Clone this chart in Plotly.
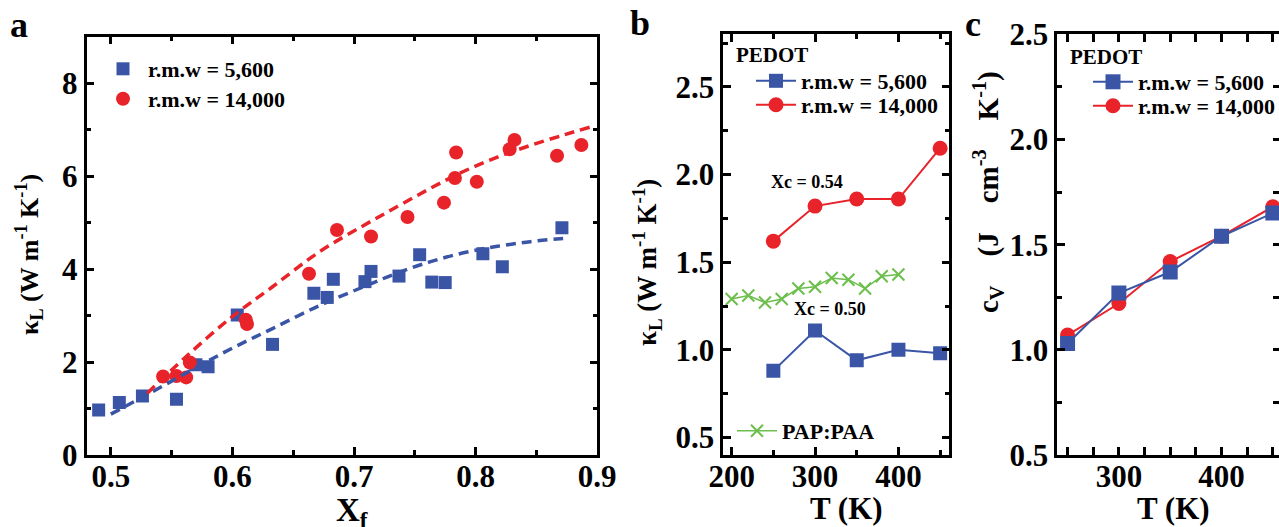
import plotly.graph_objects as go

W, H = 1279, 527
FONT = "Liberation Serif"
BLUE = "#3a55a6"
RED = "#e8232a"
GREEN = "#6cbf4c"

# ---- panel a: kappa_L vs crystalline fraction ----
xf_5600 = [0.490, 0.507, 0.526, 0.554, 0.570, 0.580, 0.604, 0.633, 0.667, 0.678,
           0.683, 0.709, 0.714, 0.737, 0.754, 0.764, 0.775, 0.806, 0.822, 0.871]
kl_5600 = [0.97, 1.13, 1.27, 1.20, 1.94, 1.90, 3.01, 2.38, 3.48, 3.39,
           3.78, 3.73, 3.95, 3.85, 4.31, 3.72, 3.71, 4.33, 4.05, 4.89]
xf_14000 = [0.543, 0.554, 0.562, 0.565, 0.611, 0.612, 0.663, 0.686, 0.714,
            0.744, 0.774, 0.783, 0.784, 0.801, 0.828, 0.832, 0.867, 0.887]
kl_14000 = [1.69, 1.70, 1.67, 1.99, 2.91, 2.82, 3.90, 4.84, 4.70,
            5.12, 5.43, 5.96, 6.51, 5.88, 6.58, 6.78, 6.44, 6.67]
fit_x_5600 = [0.500, 0.530, 0.570, 0.600, 0.633, 0.672, 0.708, 0.736, 0.763, 0.790, 0.818, 0.845, 0.872]
fit_y_5600 = [0.88, 1.30, 1.88, 2.30, 2.72, 3.22, 3.62, 3.92, 4.16, 4.35, 4.49, 4.59, 4.66]
fit_x_14000 = [0.530, 0.562, 0.600, 0.633, 0.672, 0.708, 0.736, 0.763, 0.790, 0.818, 0.845, 0.873, 0.895]
fit_y_14000 = [1.33, 2.12, 2.98, 3.62, 4.38, 4.94, 5.35, 5.74, 6.10, 6.41, 6.66, 6.89, 7.06]

# ---- panel b: kappa_L vs temperature ----
T_b = [250, 300, 350, 400, 450]
klT_5600 = [0.88, 1.11, 0.94, 1.00, 0.98]
klT_14000 = [1.62, 1.82, 1.86, 1.86, 2.15]
T_pap = [200, 220, 240, 260, 280, 300, 320, 340, 360, 380, 400]
kl_pap = [1.29, 1.31, 1.27, 1.29, 1.35, 1.36, 1.41, 1.40, 1.35, 1.42, 1.43]

# ---- panel c: volumetric heat capacity vs temperature ----
T_c = [250, 300, 350, 400, 450]
cv_5600 = [1.03, 1.27, 1.37, 1.54, 1.65]
cv_14000 = [1.07, 1.22, 1.42, 1.54, 1.68]

LBL_5600 = "r.m.w = 5,600"
LBL_14000 = "r.m.w = 14,000"


def px(x):
    return x / W


def py(y):
    return 1 - y / H


def bold(size):
    return dict(family=FONT, size=size, color="black", weight="bold")


fig = go.Figure()

# panel a
fig.add_trace(go.Scatter(x=xf_5600, y=kl_5600, mode="markers", name=LBL_5600,
                         marker=dict(symbol="square", size=13, color=BLUE),
                         xaxis="x", yaxis="y", legend="legend"))
fig.add_trace(go.Scatter(x=xf_14000, y=kl_14000, mode="markers", name=LBL_14000,
                         marker=dict(symbol="circle", size=14, color=RED),
                         xaxis="x", yaxis="y", legend="legend2"))
fig.add_trace(go.Scatter(x=fit_x_5600, y=fit_y_5600, mode="lines", showlegend=False,
                         line=dict(color=BLUE, width=3.5, dash="10px,6px", shape="spline"),
                         xaxis="x", yaxis="y"))
fig.add_trace(go.Scatter(x=fit_x_14000, y=fit_y_14000, mode="lines", showlegend=False,
                         line=dict(color=RED, width=3.5, dash="10px,6px", shape="spline"),
                         xaxis="x", yaxis="y"))

# panel b
fig.add_trace(go.Scatter(x=T_b, y=klT_5600, mode="lines+markers", name=LBL_5600,
                         marker=dict(symbol="square", size=14, color=BLUE),
                         line=dict(color=BLUE, width=2),
                         xaxis="x2", yaxis="y2", legend="legend3"))
fig.add_trace(go.Scatter(x=T_b, y=klT_14000, mode="lines+markers", name=LBL_14000,
                         marker=dict(symbol="circle", size=15, color=RED),
                         line=dict(color=RED, width=2),
                         xaxis="x2", yaxis="y2", legend="legend4"))
fig.add_trace(go.Scatter(x=T_pap, y=kl_pap, mode="lines+markers", name="PAP:PAA",
                         marker=dict(symbol="x-thin", size=12, color=GREEN,
                                     line=dict(color=GREEN, width=2)),
                         line=dict(color=GREEN, width=1.5),
                         xaxis="x2", yaxis="y2", legend="legend5"))

# panel c (red drawn first so the squares sit on top)
fig.add_trace(go.Scatter(x=T_c, y=cv_14000, mode="lines+markers", name=LBL_14000,
                         marker=dict(symbol="circle", size=15, color=RED),
                         line=dict(color=RED, width=2),
                         xaxis="x3", yaxis="y3", legend="legend7"))
fig.add_trace(go.Scatter(x=T_c, y=cv_5600, mode="lines+markers", name=LBL_5600,
                         marker=dict(symbol="square", size=15, color=BLUE),
                         line=dict(color=BLUE, width=2),
                         xaxis="x3", yaxis="y3", legend="legend6"))
# carrier for the right-hand tick axis of panel c
fig.add_trace(go.Scatter(x=[None], y=[None], mode="markers", showlegend=False,
                         hoverinfo="skip", xaxis="x3", yaxis="y4"))

TICK_FONT = bold(31)
axis_common = dict(
    showline=True, linewidth=2.5, linecolor="black", mirror="allticks",
    ticks="inside", ticklen=8, tickwidth=2.5, tickcolor="black",
    showgrid=False, zeroline=False, tickfont=TICK_FONT,
    minor=dict(ticks="inside", ticklen=5, tickwidth=2.5, tickcolor="black", showgrid=False),
)
x_common = dict(axis_common, ticklabelstandoff=-8)

ya_dom = [py(455), py(36.7)]
yb_dom = [py(455), py(34.3)]


def legend_at(x_left, y_mid):
    # one legend box per entry so every row sits exactly where it belongs
    return dict(x=px(x_left), y=py(y_mid), xanchor="left", yanchor="middle",
                font=bold(22), itemwidth=40, bgcolor="rgba(0,0,0,0)",
                borderwidth=0)


fig.update_layout(
    width=W, height=H, margin=dict(l=0, r=0, t=0, b=0, autoexpand=False),
    paper_bgcolor="white", plot_bgcolor="white", showlegend=True,
    xaxis=dict(x_common, domain=[px(86.5), px(597.3)], range=[0.48, 0.9001],
               tick0=0.5, dtick=0.1, tickformat=".1f", anchor="y",
               minor=dict(axis_common["minor"], dtick=0.05)),
    yaxis=dict(axis_common, domain=ya_dom, range=[0, 9], tick0=0, dtick=2, anchor="x",
               minor=dict(axis_common["minor"], dtick=1)),
    xaxis2=dict(x_common, domain=[px(723.3), px(949.3)], range=[190, 461],
                tick0=0, dtick=100, anchor="y2",
                minor=dict(axis_common["minor"], dtick=50)),
    yaxis2=dict(axis_common, domain=yb_dom, range=[0.4, 2.8], tick0=0.5, dtick=0.5,
                tickformat=".1f", anchor="x2",
                minor=dict(axis_common["minor"], tick0=0.5, dtick=0.25)),
    xaxis3=dict(x_common, domain=[px(1057.3), 1.0], range=[240, 456],
                tick0=0, dtick=100, anchor="y3",
                minor=dict(axis_common["minor"], dtick=25)),
    yaxis3=dict(axis_common, mirror=False, domain=yb_dom, range=[0.5, 2.5], tick0=0.5,
                dtick=0.5, tickformat=".1f", anchor="x3",
                minor=dict(axis_common["minor"], tick0=0.5, dtick=0.25)),
    yaxis4=dict(overlaying="y3", side="right", anchor="free", position=1.0,
                range=[0.5, 2.5], tick0=0.5, dtick=0.25, showline=False,
                ticks="inside", ticklen=6, tickwidth=2.5, tickcolor="black",
                showticklabels=False, showgrid=False, zeroline=False),
    legend=legend_at(98, 69),
    legend2=legend_at(98, 99),
    legend3=legend_at(751, 81),
    legend4=legend_at(751, 105),
    legend5=legend_at(732, 431),
    legend6=legend_at(1088, 82),
    legend7=legend_at(1088, 106),
)

annotations = [
    # panel letters
    dict(text="a", x=px(19), y=py(25), font=bold(36)),
    dict(text="b", x=px(640), y=py(22.5), font=bold(36)),
    dict(text="c", x=px(973), y=py(24), font=bold(36)),
    # legend headers
    dict(text="PEDOT", x=px(772.5), y=py(55), font=bold(21)),
    dict(text="PEDOT", x=px(1106.4), y=py(56.7), font=bold(21)),
    # axis titles
    dict(text="κ<sub>L</sub> (W m<sup>-1</sup> K<sup>-1</sup>)", x=px(29), y=py(255),
         textangle=-90, font=bold(26)),
    dict(text="X<sub>f</sub>", x=px(352), y=py(490), yanchor="top", font=bold(33)),
    dict(text="κ<sub>L</sub> (W m<sup>-1</sup> K<sup>-1</sup>)", x=px(647), y=py(263),
         textangle=-90, font=bold(27)),
    dict(text="T (K)", x=px(846.5), y=py(508), font=bold(31)),
    dict(text="c<sub>V</sub>    (J    cm<sup>-3</sup>    K<sup>-1</sup>)", x=px(988), y=py(192),
         textangle=-90, font=bold(29)),
    dict(text="T (K)", x=px(1173), y=py(508), font=bold(31)),
]
for a in annotations:
    a.update(xref="paper", yref="paper", showarrow=False, xanchor="center",
             yanchor=a.get("yanchor", "middle"))
# composition labels inside panel b
annotations += [
    dict(text="Xc = 0.54", x=290, y=1.956, xref="x2", yref="y2", showarrow=False, font=bold(18)),
    dict(text="Xc = 0.50", x=318, y=1.232, xref="x2", yref="y2", showarrow=False, font=bold(18)),
]
fig.update_layout(annotations=annotations)

fig.write_html("out.html")
